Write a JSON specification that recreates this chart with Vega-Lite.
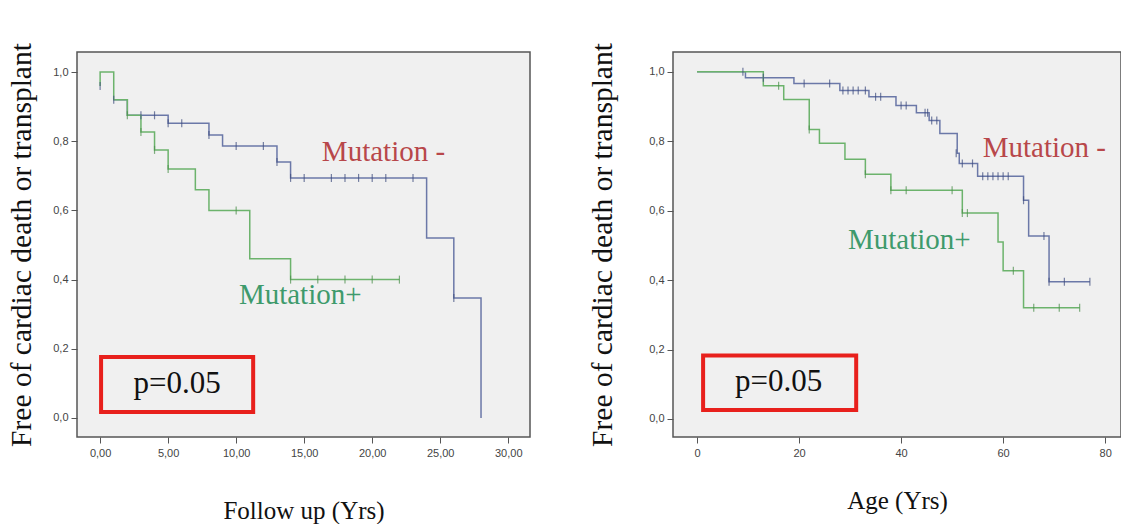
{
  "$schema": "https://vega.github.io/schema/vega-lite/v6.json",
  "background": "white",
  "padding": {"left": 5, "top": 41, "right": 0, "bottom": 0},
  "spacing": 143,
  "bounds": "flush",
  "config": {
    "view": {"fill": "#f0f0f0", "stroke": "#555555", "strokeWidth": 1.5},
    "axis": {
      "domain": false, "grid": false, "tickColor": "#555555", "tickSize": 6, "tickWidth": 1,
      "labelFont": "Liberation Sans", "labelFontSize": 11, "labelColor": "#444444", "labelPadding": 3,
      "titleFont": "Liberation Serif", "titleFontWeight": "normal", "titleColor": "#111111"
    }
  },
  "datasets": {
    "leftLines": [
      {"grp": "neg", "ord": 1, "t": 1, "s": 0.92},
      {"grp": "neg", "ord": 2, "t": 2, "s": 0.875},
      {"grp": "neg", "ord": 3, "t": 5, "s": 0.852},
      {"grp": "neg", "ord": 4, "t": 8, "s": 0.818},
      {"grp": "neg", "ord": 5, "t": 9, "s": 0.786},
      {"grp": "neg", "ord": 6, "t": 13, "s": 0.74},
      {"grp": "neg", "ord": 7, "t": 14, "s": 0.694},
      {"grp": "neg", "ord": 8, "t": 24, "s": 0.52},
      {"grp": "neg", "ord": 9, "t": 26, "s": 0.347},
      {"grp": "neg", "ord": 10, "t": 28, "s": 0.0},
      {"grp": "pos", "ord": 1, "t": 0, "s": 0.96},
      {"grp": "pos", "ord": 2, "t": 0, "s": 1.0},
      {"grp": "pos", "ord": 3, "t": 1, "s": 0.92},
      {"grp": "pos", "ord": 4, "t": 2, "s": 0.875},
      {"grp": "pos", "ord": 5, "t": 3, "s": 0.827},
      {"grp": "pos", "ord": 6, "t": 4, "s": 0.775},
      {"grp": "pos", "ord": 7, "t": 5, "s": 0.72},
      {"grp": "pos", "ord": 8, "t": 7, "s": 0.66},
      {"grp": "pos", "ord": 9, "t": 8, "s": 0.60},
      {"grp": "pos", "ord": 10, "t": 11, "s": 0.46},
      {"grp": "pos", "ord": 11, "t": 14, "s": 0.40},
      {"grp": "pos", "ord": 12, "t": 22, "s": 0.40}
    ],
    "leftMarks": [
      {"grp": "neg", "t": 0, "s": 0.96}, {"grp": "neg", "t": 1, "s": 0.92}, {"grp": "neg", "t": 3, "s": 0.875},
      {"grp": "neg", "t": 4, "s": 0.875}, {"grp": "neg", "t": 5, "s": 0.852}, {"grp": "neg", "t": 6, "s": 0.852},
      {"grp": "neg", "t": 8, "s": 0.818}, {"grp": "neg", "t": 10, "s": 0.786}, {"grp": "neg", "t": 12, "s": 0.786},
      {"grp": "neg", "t": 13, "s": 0.74}, {"grp": "neg", "t": 14, "s": 0.694}, {"grp": "neg", "t": 15, "s": 0.694},
      {"grp": "neg", "t": 17, "s": 0.694}, {"grp": "neg", "t": 18, "s": 0.694}, {"grp": "neg", "t": 19, "s": 0.694},
      {"grp": "neg", "t": 20, "s": 0.694}, {"grp": "neg", "t": 21, "s": 0.694}, {"grp": "neg", "t": 23, "s": 0.694},
      {"grp": "neg", "t": 26, "s": 0.347},
      {"grp": "pos", "t": 2, "s": 0.875}, {"grp": "pos", "t": 3, "s": 0.827}, {"grp": "pos", "t": 4, "s": 0.775},
      {"grp": "pos", "t": 5, "s": 0.72}, {"grp": "pos", "t": 10, "s": 0.60}, {"grp": "pos", "t": 14, "s": 0.40},
      {"grp": "pos", "t": 16, "s": 0.40}, {"grp": "pos", "t": 18, "s": 0.40}, {"grp": "pos", "t": 20, "s": 0.40},
      {"grp": "pos", "t": 22, "s": 0.40}
    ],
    "leftLabels": [
      {"grp": "neg", "t": 16.3, "s": 0.77, "label": "Mutation -"},
      {"grp": "pos", "t": 10.2, "s": 0.355, "label": "Mutation+"}
    ],
    "leftBox": [{"t1": 0.07, "t2": 11.25, "s1": 0.017, "s2": 0.176, "tc": 5.66, "sc": 0.097, "label": "p=0.05"}],
    "rightLines": [
      {"grp": "neg", "ord": 1, "t": 0, "s": 1.0},
      {"grp": "neg", "ord": 2, "t": 9.5, "s": 0.983},
      {"grp": "neg", "ord": 3, "t": 19, "s": 0.966},
      {"grp": "neg", "ord": 4, "t": 28, "s": 0.946},
      {"grp": "neg", "ord": 5, "t": 33.7, "s": 0.928},
      {"grp": "neg", "ord": 6, "t": 39, "s": 0.903},
      {"grp": "neg", "ord": 7, "t": 43, "s": 0.882},
      {"grp": "neg", "ord": 8, "t": 45.5, "s": 0.86},
      {"grp": "neg", "ord": 9, "t": 47.6, "s": 0.822},
      {"grp": "neg", "ord": 10, "t": 51, "s": 0.765},
      {"grp": "neg", "ord": 11, "t": 51.4, "s": 0.736},
      {"grp": "neg", "ord": 12, "t": 55, "s": 0.699},
      {"grp": "neg", "ord": 13, "t": 64, "s": 0.63},
      {"grp": "neg", "ord": 14, "t": 65, "s": 0.527},
      {"grp": "neg", "ord": 15, "t": 69, "s": 0.395},
      {"grp": "neg", "ord": 16, "t": 77, "s": 0.395},
      {"grp": "pos", "ord": 1, "t": 0, "s": 1.0},
      {"grp": "pos", "ord": 2, "t": 13, "s": 0.96},
      {"grp": "pos", "ord": 3, "t": 17, "s": 0.92},
      {"grp": "pos", "ord": 4, "t": 22, "s": 0.834},
      {"grp": "pos", "ord": 5, "t": 24, "s": 0.794},
      {"grp": "pos", "ord": 6, "t": 29, "s": 0.748},
      {"grp": "pos", "ord": 7, "t": 33, "s": 0.705},
      {"grp": "pos", "ord": 8, "t": 38, "s": 0.659},
      {"grp": "pos", "ord": 9, "t": 52, "s": 0.593},
      {"grp": "pos", "ord": 10, "t": 59, "s": 0.51},
      {"grp": "pos", "ord": 11, "t": 60, "s": 0.427},
      {"grp": "pos", "ord": 12, "t": 64, "s": 0.32},
      {"grp": "pos", "ord": 13, "t": 75, "s": 0.32}
    ],
    "rightMarks": [
      {"grp": "neg", "t": 9, "s": 1.0}, {"grp": "neg", "t": 13, "s": 0.983}, {"grp": "neg", "t": 21, "s": 0.966},
      {"grp": "neg", "t": 26, "s": 0.966}, {"grp": "neg", "t": 28.6, "s": 0.946}, {"grp": "neg", "t": 29.6, "s": 0.946},
      {"grp": "neg", "t": 30.6, "s": 0.946}, {"grp": "neg", "t": 31.6, "s": 0.946}, {"grp": "neg", "t": 33, "s": 0.946},
      {"grp": "neg", "t": 35, "s": 0.928}, {"grp": "neg", "t": 36, "s": 0.928}, {"grp": "neg", "t": 40, "s": 0.903},
      {"grp": "neg", "t": 41, "s": 0.903}, {"grp": "neg", "t": 44.7, "s": 0.882}, {"grp": "neg", "t": 45.2, "s": 0.882},
      {"grp": "neg", "t": 46, "s": 0.86}, {"grp": "neg", "t": 47, "s": 0.86}, {"grp": "neg", "t": 50.8, "s": 0.765},
      {"grp": "neg", "t": 52, "s": 0.736}, {"grp": "neg", "t": 54, "s": 0.736}, {"grp": "neg", "t": 56, "s": 0.699},
      {"grp": "neg", "t": 57, "s": 0.699}, {"grp": "neg", "t": 58, "s": 0.699}, {"grp": "neg", "t": 59, "s": 0.699},
      {"grp": "neg", "t": 60, "s": 0.699}, {"grp": "neg", "t": 61, "s": 0.699}, {"grp": "neg", "t": 64, "s": 0.63},
      {"grp": "neg", "t": 68, "s": 0.527}, {"grp": "neg", "t": 69, "s": 0.395}, {"grp": "neg", "t": 72, "s": 0.395},
      {"grp": "neg", "t": 77, "s": 0.395},
      {"grp": "pos", "t": 16, "s": 0.96}, {"grp": "pos", "t": 22, "s": 0.834}, {"grp": "pos", "t": 33, "s": 0.705},
      {"grp": "pos", "t": 38, "s": 0.659}, {"grp": "pos", "t": 41, "s": 0.659}, {"grp": "pos", "t": 50, "s": 0.659},
      {"grp": "pos", "t": 52, "s": 0.593}, {"grp": "pos", "t": 53, "s": 0.593}, {"grp": "pos", "t": 62, "s": 0.427},
      {"grp": "pos", "t": 66, "s": 0.32}, {"grp": "pos", "t": 71, "s": 0.32}, {"grp": "pos", "t": 75, "s": 0.32}
    ],
    "rightLabels": [
      {"grp": "neg", "t": 56, "s": 0.78, "label": "Mutation -"},
      {"grp": "pos", "t": 29.6, "s": 0.516, "label": "Mutation+"}
    ],
    "rightBox": [{"t1": 1.2, "t2": 31.2, "s1": 0.026, "s2": 0.183, "tc": 16.0, "sc": 0.105, "label": "p=0.05"}]
  },
  "hconcat": [
    {
      "width": 453,
      "height": 385,
      "layer": [
        {
          "data": {"name": "leftLines"},
          "mark": {"type": "line", "interpolate": "step-after", "strokeWidth": 1.5},
          "encoding": {
            "x": {"field": "t", "type": "quantitative", "scale": {"domain": [-1.7, 31.6], "nice": false, "zero": false},
              "axis": {"values": [0, 5, 10, 15, 20, 25, 30], "labelExpr": "replace(format(datum.value, '.2f'), '.', ',')",
                "title": "Follow up (Yrs)", "titleFontSize": 25, "titlePadding": 40, "labelPadding": 4}},
            "y": {"field": "s", "type": "quantitative", "scale": {"domain": [-0.055, 1.058], "nice": false, "zero": false},
              "axis": {"values": [0, 0.2, 0.4, 0.6, 0.8, 1.0], "labelExpr": "replace(format(datum.value, '.1f'), '.', ',')",
                "title": "Free of cardiac death or transplant", "titleFontSize": 29.5, "titlePadding": 16}},
            "color": {"field": "grp", "type": "nominal", "scale": {"domain": ["neg", "pos"], "range": ["#6b78a8", "#6cb36c"]}, "legend": null},
            "order": {"field": "ord", "type": "quantitative"}
          }
        },
        {
          "data": {"name": "leftMarks"},
          "mark": {"type": "tick", "orient": "vertical", "size": 8, "thickness": 1.2},
          "encoding": {
            "x": {"field": "t", "type": "quantitative"},
            "y": {"field": "s", "type": "quantitative"},
            "color": {"field": "grp", "type": "nominal", "scale": {"domain": ["neg", "pos"], "range": ["#3d4b7d", "#4a8f4a"]}, "legend": null}
          }
        },
        {
          "data": {"name": "leftLabels"},
          "mark": {"type": "text", "align": "left", "baseline": "middle", "font": "Liberation Serif", "fontSize": 29},
          "encoding": {
            "x": {"field": "t", "type": "quantitative"},
            "y": {"field": "s", "type": "quantitative"},
            "text": {"field": "label"},
            "color": {"field": "grp", "type": "nominal", "scale": {"domain": ["neg", "pos"], "range": ["#b8474a", "#3e9a6c"]}, "legend": null}
          }
        },
        {
          "data": {"name": "leftBox"},
          "mark": {"type": "rect", "fill": null, "stroke": "#e8201c", "strokeWidth": 4},
          "encoding": {
            "x": {"field": "t1", "type": "quantitative"}, "x2": {"field": "t2"},
            "y": {"field": "s1", "type": "quantitative"}, "y2": {"field": "s2"}
          }
        },
        {
          "data": {"name": "leftBox"},
          "mark": {"type": "text", "align": "center", "baseline": "middle", "font": "Liberation Serif", "fontSize": 31, "color": "#111111"},
          "encoding": {
            "x": {"field": "tc", "type": "quantitative"},
            "y": {"field": "sc", "type": "quantitative"},
            "text": {"field": "label"}
          }
        }
      ],
      "resolve": {"scale": {"color": "independent"}}
    },
    {
      "width": 448,
      "height": 385,
      "layer": [
        {
          "data": {"name": "rightLines"},
          "mark": {"type": "line", "interpolate": "step-after", "strokeWidth": 1.5},
          "encoding": {
            "x": {"field": "t", "type": "quantitative", "scale": {"domain": [-4.7, 83.1], "nice": false, "zero": false},
              "axis": {"values": [0, 20, 40, 60, 80], "title": "Age (Yrs)", "titleFontSize": 25, "titlePadding": 30, "labelPadding": 4}},
            "y": {"field": "s", "type": "quantitative", "scale": {"domain": [-0.052, 1.057], "nice": false, "zero": false},
              "axis": {"values": [0, 0.2, 0.4, 0.6, 0.8, 1.0], "labelExpr": "replace(format(datum.value, '.1f'), '.', ',')",
                "title": "Free of cardiac death or transplant", "titleFontSize": 29.5, "titlePadding": 31}},
            "color": {"field": "grp", "type": "nominal", "scale": {"domain": ["neg", "pos"], "range": ["#6b78a8", "#6cb36c"]}, "legend": null},
            "order": {"field": "ord", "type": "quantitative"}
          }
        },
        {
          "data": {"name": "rightMarks"},
          "mark": {"type": "tick", "orient": "vertical", "size": 8, "thickness": 1.2},
          "encoding": {
            "x": {"field": "t", "type": "quantitative"},
            "y": {"field": "s", "type": "quantitative"},
            "color": {"field": "grp", "type": "nominal", "scale": {"domain": ["neg", "pos"], "range": ["#3d4b7d", "#4a8f4a"]}, "legend": null}
          }
        },
        {
          "data": {"name": "rightLabels"},
          "mark": {"type": "text", "align": "left", "baseline": "middle", "font": "Liberation Serif", "fontSize": 29},
          "encoding": {
            "x": {"field": "t", "type": "quantitative"},
            "y": {"field": "s", "type": "quantitative"},
            "text": {"field": "label"},
            "color": {"field": "grp", "type": "nominal", "scale": {"domain": ["neg", "pos"], "range": ["#b8474a", "#3e9a6c"]}, "legend": null}
          }
        },
        {
          "data": {"name": "rightBox"},
          "mark": {"type": "rect", "fill": null, "stroke": "#e8201c", "strokeWidth": 4},
          "encoding": {
            "x": {"field": "t1", "type": "quantitative"}, "x2": {"field": "t2"},
            "y": {"field": "s1", "type": "quantitative"}, "y2": {"field": "s2"}
          }
        },
        {
          "data": {"name": "rightBox"},
          "mark": {"type": "text", "align": "center", "baseline": "middle", "font": "Liberation Serif", "fontSize": 31, "color": "#111111"},
          "encoding": {
            "x": {"field": "tc", "type": "quantitative"},
            "y": {"field": "sc", "type": "quantitative"},
            "text": {"field": "label"}
          }
        }
      ],
      "resolve": {"scale": {"color": "independent"}}
    }
  ]
}
